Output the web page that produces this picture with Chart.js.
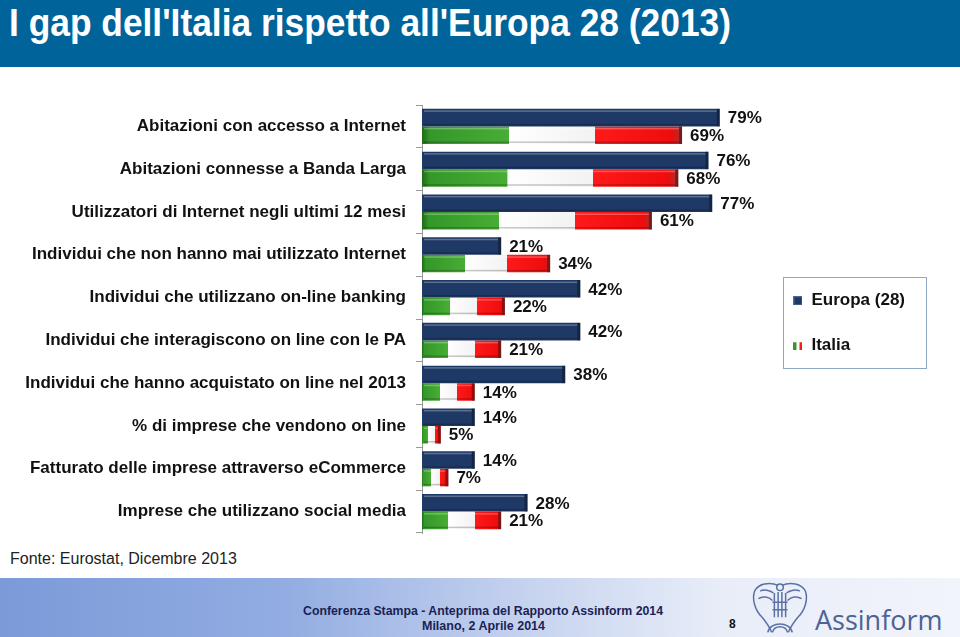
<!DOCTYPE html>
<html lang="it">
<head>
<meta charset="utf-8">
<title>I gap dell'Italia rispetto all'Europa 28 (2013)</title>
<script src="https://cdn.jsdelivr.net/npm/chart.js@4.4.1/dist/chart.umd.min.js"></script>
<style>
  html, body { margin: 0; padding: 0; width: 960px; height: 637px; overflow: hidden; background: #fff;
    font-family: "Liberation Sans", Arial, sans-serif; }
  #header { position: absolute; left: 0; top: 0; width: 960px; height: 67px; background: #00649a; }
  #header h1 { margin: 0; position: absolute; left: 9px; top: 2px; color: #fff; font-weight: bold;
    font-size: 38px; font-family: "Liberation Sans", Arial, sans-serif; white-space: nowrap;
    transform-origin: 0 0; }
  #wrap { position: absolute; left: 0; top: 100px; width: 960px; height: 440px; }
  #fonte { position: absolute; left: 10px; top: 550px; font-size: 16px; color: #222; white-space: nowrap; }
  #footer { position: absolute; left: 0; top: 578px; width: 960px; height: 59px;
    background: linear-gradient(to right, #7b9ad8 0%, #93ade2 30%, #c6d3ef 55%, #e8edf8 75%, #f2f4fb 100%); }
  .fit { position: absolute; white-space: nowrap; transform-origin: 0 0; color: #1b1f55;
    font: bold 13px "Liberation Sans", Arial, sans-serif; }
  #pag { position: absolute; left: 729px; top: 39px; font: bold 12px "Liberation Sans", sans-serif; color: #111; }
  #logo { position: absolute; left: 749px; top: 1px; }
  #assinform { position: absolute; left: 815px; top: 23px; font: 27px "Open Sans", "Liberation Sans", sans-serif;
    color: #4c6394; }
</style>
</head>
<body>
<div id="header"><h1 class="w" data-w="722">I gap dell'Italia rispetto all'Europa 28 (2013)</h1></div>
<div id="wrap"><canvas id="chartGap" width="960" height="440"></canvas></div>
<div id="fonte">Fonte: Eurostat, Dicembre 2013</div>
<div id="footer">
  <div class="fit w" data-w="360" style="left:303px; top:25px;">Conferenza Stampa - Anteprima del Rapporto Assinform 2014</div>
  <div class="fit w" data-w="123" style="left:422px; top:40px;">Milano, 2 Aprile 2014</div>
  <div id="pag">8</div>
  <svg id="logo" width="62" height="56" viewBox="0 0 66 58" fill="none" stroke="#5b71a6" stroke-width="1.6">
    <path d="M31 6 C22 2 10 4 6 12 C3 20 6 32 14 40 C18 45 22 50 24 56" />
    <path d="M35 6 C44 2 56 4 60 12 C63 20 60 32 52 40 C48 45 44 50 42 56" />
    <path d="M12 12 C16 10 22 11 26 14 M54 12 C50 10 44 11 40 14" />
    <path d="M10 20 C15 17 21 18 25 22 M56 20 C51 17 45 18 41 22" />
    <circle cx="33" cy="8" r="3.5" />
    <path d="M27 14 L27 40 M31 13 L31 40 M35 13 L35 40 M39 14 L39 40 M25 24 L41 24 M25 32 L41 32" />
    <path d="M20 56 C22 44 44 44 46 56 M25 56 C27 48 39 48 41 56" />
  </svg>
  <div id="assinform">Assinform</div>
</div>

<script>
/* ── dati (Eurostat, dicembre 2013) ── */
const CATEGORIE = [
  'Abitazioni con accesso a Internet',
  'Abitazioni connesse a Banda Larga',
  'Utilizzatori di Internet negli ultimi 12 mesi',
  'Individui che non hanno mai utilizzato Internet',
  'Individui che utilizzano on-line banking',
  'Individui che interagiscono on line con le PA',
  'Individui che hanno acquistato on line nel 2013',
  '% di imprese che vendono on line',
  'Fatturato delle imprese attraverso eCommerce',
  'Imprese che utilizzano social media'
];
const SERIE  = ['Europa (28)', 'Italia'];
const EUROPA = [79, 76, 77, 21, 42, 42, 38, 14, 14, 28];
const ITALIA = [69, 68, 61, 34, 22, 21, 14, 5, 7, 21];
const X_MAX  = 91;

const NAVY = '#1f3966';
const FONT = '"Liberation Sans", Arial, sans-serif';

// testi stretti come nella slide
document.querySelectorAll('.w').forEach(el => {
  const w = el.getBoundingClientRect().width;
  el.style.transform = 'scaleX(' + (el.dataset.w / w) + ')';
});

// tricolore lungo la barra, calcolato sulla scala x
function tricolore(ctx) {
  const chart = ctx.chart;
  if (!chart.chartArea || ctx.type !== 'data') return '#3c9f2c';
  const sx = chart.scales.x;
  const x0 = sx.getPixelForValue(0), x1 = sx.getPixelForValue(ctx.raw);
  const g = chart.ctx.createLinearGradient(x0, 0, x1, 0);
  g.addColorStop(0, '#1f6a16');
  g.addColorStop(0.03, '#34972a');
  g.addColorStop(0.333, '#48ad34');
  g.addColorStop(0.334, '#ffffff');
  g.addColorStop(0.666, '#f2f2f2');
  g.addColorStop(0.667, '#ff1a1a');
  g.addColorStop(0.96, '#ee0c0c');
  g.addColorStop(1, '#a83030');
  return g;
}

function legendIcon(kind) {
  const c = document.createElement('canvas');
  c.width = 9; c.height = 9;
  const x = c.getContext('2d');
  if (kind === 'it') {
    x.fillStyle = '#34972a'; x.fillRect(0, 1, 3, 8);
    x.fillStyle = '#ffffff'; x.fillRect(3, 1, 3, 8);
    x.fillStyle = '#ff1a1a'; x.fillRect(6, 1, 3, 8);
  } else {
    x.fillStyle = NAVY; x.fillRect(0, 0, 9, 9);
    x.strokeStyle = '#4a6796'; x.strokeRect(0.5, 0.5, 8, 8);
  }
  return c;
}
const ICONS = [legendIcon('eu'), legendIcon('it')];

// rilievo delle barre
const bevelPlugin = {
  id: 'bevel',
  afterDatasetsDraw(chart) {
    const c = chart.ctx;
    c.save();
    chart.data.datasets.forEach((ds, di) => {
      chart.getDatasetMeta(di).data.forEach(el => {
        const { x, y, base, height } = el.getProps(['x', 'y', 'base', 'height'], true);
        const top = y - height / 2, w = x - base;
        if (w < 4) return;
        c.fillStyle = 'rgba(255,255,255,0.28)';
        c.fillRect(base + 2, top + 1.5, w - 5, 1.5);
        c.fillStyle = 'rgba(0,0,0,0.22)';
        c.fillRect(base + 2, top + height - 2.5, w - 5, 1.5);
        c.fillStyle = 'rgba(0,0,0,0.35)';
        c.fillRect(x - 3, top, 3, height);
      });
    });
    c.restore();
  }
};

// etichette dei valori
const valuePlugin = {
  id: 'valori',
  afterDatasetsDraw(chart) {
    const c = chart.ctx;
    c.save();
    c.font = 'bold 17px ' + FONT;
    c.fillStyle = '#111';
    c.textBaseline = 'middle';
    c.textAlign = 'left';
    chart.data.datasets.forEach((ds, di) => {
      chart.getDatasetMeta(di).data.forEach((el, i) => {
        const { x, y } = el.getProps(['x', 'y'], true);
        c.fillText(ds.data[i] + '%', x + 8, y + 1);
      });
    });
    c.restore();
  }
};

// cornice della legenda
const legendBoxPlugin = {
  id: 'legendBox',
  afterDraw(chart) {
    const lg = chart.legend;
    if (!lg || !lg.legendHitBoxes.length) return;
    const hb = lg.legendHitBoxes;
    const top = Math.min(...hb.map(h => h.top)) - 15;
    const bottom = Math.max(...hb.map(h => h.top + h.height)) + 14;
    const left = Math.min(...hb.map(h => h.left)) - 10;
    const c = chart.ctx;
    c.save();
    c.strokeStyle = '#8ea6c8';
    c.lineWidth = 1;
    c.strokeRect(Math.round(left) + 0.5, Math.round(top) + 0.5, 143, Math.round(bottom - top));
    c.restore();
  }
};

new Chart(document.getElementById('chartGap'), {
  type: 'bar',
  data: {
    labels: CATEGORIE,
    datasets: [
      { label: SERIE[0], data: EUROPA, backgroundColor: NAVY, borderWidth: 0,
        categoryPercentage: 0.82, barPercentage: 1 },
      { label: SERIE[1], data: ITALIA, backgroundColor: tricolore, borderWidth: 0,
        categoryPercentage: 0.82, barPercentage: 1 }
    ]
  },
  options: {
    indexAxis: 'y',
    responsive: false,
    animation: false,
    devicePixelRatio: 1,
    layout: { padding: { left: 0, top: 5, bottom: 7, right: 45 } },
    scales: {
      x: { display: false, min: 0, max: X_MAX },
      y: {
        afterFit(s) { s.width = 422; s.paddingTop = 0; s.paddingBottom = 0; },
        grid: { drawOnChartArea: false, drawTicks: true, tickLength: 6, color: '#9a9a9a', offset: true },
        border: { color: '#9a9a9a' },
        ticks: { color: '#111', padding: 10, autoSkip: false,
          font: { size: 17, weight: 'bold', family: FONT } }
      }
    },
    plugins: {
      tooltip: { enabled: false },
      legend: {
        position: 'right',
        align: 'center',
        title: { display: true, text: ' ', padding: 0, font: { size: 7 } },
        labels: {
          usePointStyle: true,
          boxWidth: 10,
          padding: 28,
          color: '#111',
          font: { size: 17, weight: 'bold', family: FONT },
          generateLabels(chart) {
            return chart.data.datasets.map((ds, i) => ({
              text: ds.label, datasetIndex: i, pointStyle: ICONS[i],
              fillStyle: NAVY, strokeStyle: NAVY, lineWidth: 0, hidden: false, fontColor: '#111'
            }));
          }
        }
      }
    }
  },
  plugins: [bevelPlugin, valuePlugin, legendBoxPlugin]
});
</script>
</body>
</html>
